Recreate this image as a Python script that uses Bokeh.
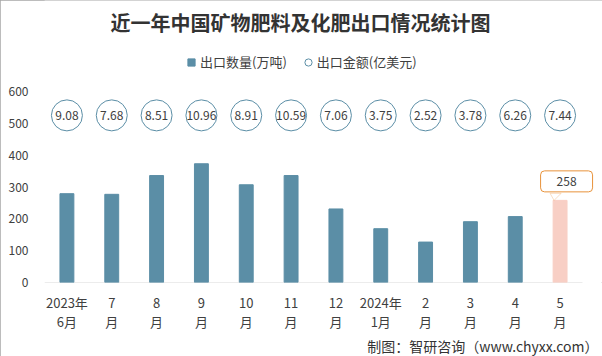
from bokeh.plotting import figure
from bokeh.models import (ColumnDataSource, Label, Legend, LegendItem, Range1d,
                          PolyAnnotation, FixedTicker, Title)
from bokeh.core.properties import value
from bokeh.embed import file_html
from bokeh.resources import INLINE

# ---------------- data ----------------
months = ["2023年\n6月", "7\n月", "8\n月", "9\n月", "10\n月", "11\n月", "12\n月",
          "2024年\n1月", "2\n月", "3\n月", "4\n月", "5\n月"]
export_volume = [279, 277, 336, 373, 307, 336, 231, 169, 127, 191, 207, 258]   # 万吨
export_value = [9.08, 7.68, 8.51, 10.96, 8.91, 10.59, 7.06, 3.75, 2.52, 3.78, 6.26, 7.44]  # 亿美元
y_ticks = [0, 100, 200, 300, 400, 500, 600]

title_text = "近一年中国矿物肥料及化肥出口情况统计图"
legend_volume = "出口数量(万吨)"
legend_value = "出口金额(亿美元)"
footer_text = "制图：智研咨询（www.chyxx.com）"

# ---------------- style ----------------
FONT = "Noto Sans CJK SC"
BAR = "#5B8EA6"
HIGHLIGHT = "#F8CFC5"
ORANGE = "#E8923A"
TXT = "#404040"
RING_LEVEL = 525

W, H = 602, 356
FL = 44                 # left border (y-axis labels)
FB = 74                 # bottom border (x-axis labels + footer)
PLOT_TOP = 91           # pixel row of the top tick (600)
CAT_W = 538.0           # pixel width of the category area
frame_w = W - FL
frame_h = H - FB
n = len(months)
unit_px = CAT_W / n
px_per_val = (frame_h - PLOT_TOP) / (y_ticks[-1] - y_ticks[0])
y_end = y_ticks[0] + frame_h / px_per_val        # frame reaches up to the title
x_end = -0.5 + frame_w / unit_px                 # frame reaches to the right edge

idx = list(range(n))
colors = [BAR if i < n - 1 else HIGHLIGHT for i in idx]
src = ColumnDataSource(dict(
    x=idx,
    volume=export_volume,
    value_label=["%.2f" % v for v in export_value],
    ring_y=[RING_LEVEL] * n,
    color=colors,
))

p = figure(width=W, height=H, title=None,
           x_range=Range1d(-0.5, x_end), y_range=Range1d(y_ticks[0], y_end),
           output_backend="svg", toolbar_location=None,
           min_border_left=FL, min_border_right=0, min_border_top=0, min_border_bottom=FB)
p.outline_line_color = None
p.xgrid.grid_line_color = None
p.ygrid.grid_line_color = None
p.background_fill_color = "white"
p.border_fill_color = "white"
p.styles = {"outline": "1px solid #A6A6A6", "outline-offset": "-1px"}

# baseline along the category area
p.line(x=[-0.5, n - 0.5], y=[y_ticks[0], y_ticks[0]], line_color="#D9D9D9", line_width=1)

bars = p.vbar(x="x", top="volume", width=0.31, color="color", source=src)
rings = p.scatter(x="x", y="ring_y", size=31, marker="circle", fill_color="white",
                  line_color=BAR, line_width=1, source=src)
p.text(x="x", y="ring_y", text="value_label", source=src, text_align="center",
       text_baseline="middle", text_font_size="12px", text_color=TXT, text_font=value(FONT))
# zero-size square marker: only used for the legend swatch
swatch = p.scatter(x="x", y="volume", size=0, marker="square", fill_color=BAR,
                   line_color=BAR, source=src)

# axes
p.xaxis.ticker = FixedTicker(ticks=idx)
p.xaxis.major_label_overrides = {i: m for i, m in zip(idx, months)}
p.xaxis.axis_line_color = None
p.xaxis.major_tick_line_color = None
p.xaxis.minor_tick_line_color = None
p.xaxis.major_label_text_font_size = "13px"
p.xaxis.major_label_text_color = TXT
p.xaxis.major_label_text_font = FONT
p.xaxis.major_label_standoff = 4
p.xaxis.major_label_text_line_height = 1.05

p.yaxis.ticker = FixedTicker(ticks=y_ticks)
p.yaxis.axis_line_color = None
p.yaxis.major_tick_line_color = None
p.yaxis.minor_tick_line_color = None
p.yaxis.major_label_text_font_size = "12px"
p.yaxis.major_label_text_color = TXT
p.yaxis.major_label_text_font = FONT
p.yaxis.major_label_standoff = 10

# legend inside the (extended) frame
legend = Legend(items=[LegendItem(label=legend_volume, renderers=[swatch]),
                       LegendItem(label=legend_value, renderers=[rings])],
                orientation="horizontal", location=(138, frame_h - 71),
                glyph_width=18, glyph_height=18, label_standoff=0, spacing=12,
                padding=0, margin=0, border_line_color=None, background_fill_alpha=0,
                label_text_font=FONT, label_text_font_size="13px", label_text_color=TXT,
                label_height=18)
p.add_layout(legend, "center")

# title
p.add_layout(Label(x=300 - FL, y=frame_h - 22, x_units="screen", y_units="screen",
                   text=title_text, text_align="center", text_baseline="middle",
                   text_font=FONT, text_font_style="bold", text_font_size="20px",
                   text_color="#333333"))

# footer (below the axis)
p.add_layout(Title(text=footer_text, align="right", offset=4, standoff=0,
                   vertical_align="middle", text_font=FONT, text_font_style="normal",
                   text_font_size="14px", text_color="#333333"), "below")

# callout for the latest value
last = n - 1
v = export_volume[last]
p.add_layout(PolyAnnotation(xs=[last - 10 / unit_px, last + 1 / unit_px, last - 6 / unit_px],
                            ys=[v + 7 / px_per_val, v + 7 / px_per_val, v],
                            fill_color="white", fill_alpha=1, line_color=ORANGE, line_width=1))
p.add_layout(Label(x=last, y=v, x_offset=6.5, y_offset=19, text=str(v),
                   text_align="center", text_baseline="middle", text_font=FONT,
                   text_font_size="12px", text_color=TXT,
                   background_fill_color="white", border_line_color=ORANGE,
                   border_line_width=1, border_radius=4, padding=(16, 6)))

open("out.html", "w").write(file_html(p, INLINE))
